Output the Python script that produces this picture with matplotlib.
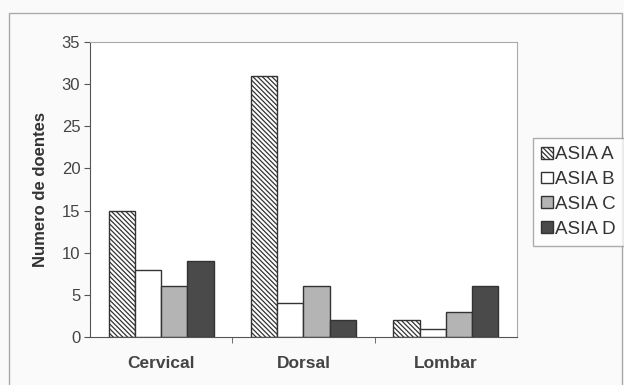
import numpy as np
import matplotlib
matplotlib.use("Agg")
import matplotlib.pyplot as plt
from matplotlib.patches import Rectangle

plt.rcParams['font.family'] = ['Liberation Sans', 'DejaVu Sans']
plt.rcParams['hatch.linewidth'] = 0.9
plt.rcParams['hatch.color'] = '#333333'

regioes = ["Cervical", "Dorsal", "Lombar"]
series = ["ASIA A", "ASIA B", "ASIA C", "ASIA D"]
asia_a = [15, 31, 2]
asia_b = [8, 4, 1]
asia_c = [6, 6, 3]
asia_d = [9, 2, 6]

cores = ["white", "white", "#b4b4b4", "#4a4a4a"]
hatches = ["\\" * 7, None, None, None]
valores = [asia_a, asia_b, asia_c, asia_d]

fig = plt.figure(figsize=(6.24, 3.85), dpi=100)
fig.patch.set_facecolor("#fafafa")
# moldura exterior do grafico
fig.patches.append(Rectangle((9/624, -0.02), 613/624, 1.02 - 13/385, transform=fig.transFigure,
                             fill=False, edgecolor="#aaaaaa", linewidth=1.0))

ax = fig.add_axes([90/624, 1-337/385, 427/624, 295/385])
ax.set_facecolor("white")

x = np.arange(len(regioes))
w = 0.185
for i, (nome, v) in enumerate(zip(series, valores)):
    ax.bar(x + (i - 1.5)*w, v, w, label=nome, color=cores[i], hatch=hatches[i],
           edgecolor="#333333", linewidth=1.0)

ax.set_xlim(-0.5, 2.5)
ax.set_ylim(0, 35)
ax.set_yticks(range(0, 36, 5))
ax.set_xticks(x)
ax.set_xticklabels(regioes, fontweight="bold", fontsize=12.5, color="#444444")
ax.tick_params(axis="x", length=0, pad=14)
ax.set_xticks([0.5, 1.5], minor=True)
ax.tick_params(axis="x", which="minor", length=4, color="#555555", direction="out")
ax.tick_params(axis="y", labelsize=12, labelcolor="#444444", length=4, color="#555555", pad=3)
ax.set_ylabel("Numero de doentes", fontweight="bold", fontsize=12, color="#333333", labelpad=10)

for s in ["top", "right"]:
    ax.spines[s].set_color("#aaaaaa")
for s in ["left", "bottom"]:
    ax.spines[s].set_color("#555555")

leg = fig.legend(loc="upper left", bbox_to_anchor=(533/624, 1-138/385), fontsize=13.5,
                 handlelength=0.6, handleheight=0.6, handletextpad=0.1,
                 borderpad=0.45, labelspacing=0.41, frameon=True, fancybox=False,
                 edgecolor="#999999", borderaxespad=0)
for t in leg.get_texts():
    t.set_color("#333333")

fig.savefig("out.png", dpi=100, facecolor=fig.get_facecolor())
